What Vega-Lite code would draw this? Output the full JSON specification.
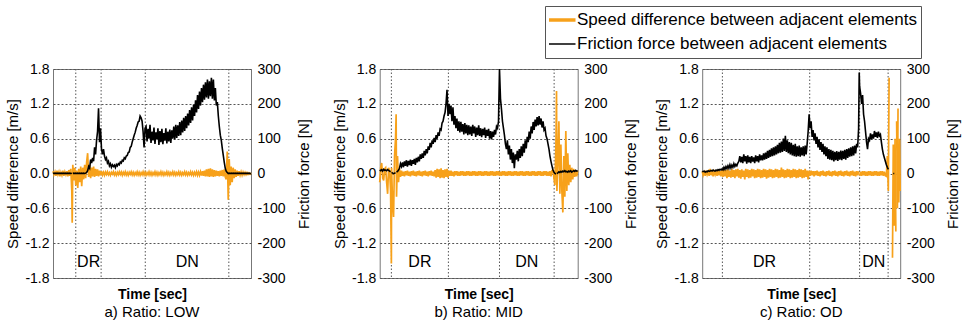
{
"$schema": "https://vega.github.io/schema/vega-lite/v6.json",
"padding": {"left": 5, "top": 5, "right": 0, "bottom": 0},
"datasets": {
"mk": [
{"p":"a","t":11.5},{"p":"a","t":24.3},{"p":"a","t":46.6},{"p":"a","t":88.8},
{"p":"b","t":5.9},{"p":"b","t":34.7},{"p":"b","t":60.5},{"p":"b","t":88.1},
{"p":"c","t":10.2},{"p":"c","t":54.3},{"p":"c","t":79.5},{"p":"c","t":93.9}
],
"lab": [
{"p":"a","t":18,"y":-1.52,"l":"DR"},{"p":"a","t":67.8,"y":-1.52,"l":"DN"},
{"p":"b","t":20.3,"y":-1.52,"l":"DR"},{"p":"b","t":74.3,"y":-1.52,"l":"DN"},
{"p":"c","t":31.5,"y":-1.52,"l":"DR"},{"p":"c","t":86.7,"y":-1.52,"l":"DN"}
],
"a": [
{"t":0,"s":0.04,"f":0},{"t":0.5,"s":-0.02,"f":1},{"t":1,"s":0.03,"f":0},{"t":1.5,"s":-0.04,"f":1},{"t":2,"s":0.05,"f":0},{"t":2.5,"s":-0.02,"f":1},{"t":3,"s":0.03,"f":0},{"t":3.5,"s":-0.05,"f":1},{"t":4,"s":0.02,"f":0},{"t":4.5,"s":-0.03,"f":1},{"t":5,"s":0.05,"f":0},{"t":5.5,"s":-0.04,"f":1},{"t":6,"s":0.03,"f":0},{"t":6.5,"s":-0.02,"f":1},{"t":7,"s":0.04,"f":0},{"t":7.5,"s":-0.05,"f":1},{"t":8,"s":0.06,"f":0},{"t":8.5,"s":-0.04,"f":1},{"t":9,"s":0.08,"f":0},{"t":9.5,"s":-0.3,"f":1},{"t":9.7,"s":-0.85},{"t":10,"s":0.15,"f":0},{"t":10.5,"s":-0.12,"f":1},{"t":11,"s":0.1,"f":0},{"t":11.5,"s":-0.2,"f":1},{"t":12,"s":0.05,"f":0},{"t":12.5,"s":-0.25,"f":1},{"t":13,"s":0.08,"f":0},{"t":13.5,"s":-0.15,"f":1},{"t":14,"s":0.12,"f":0},{"t":14.5,"s":-0.22,"f":1},{"t":15,"s":0.1,"f":0},{"t":15.5,"s":-0.1,"f":1},{"t":16,"s":0.15,"f":0},{"t":16.5,"s":-0.08,"f":1},{"t":17,"s":0.2,"f":3},{"t":17.5,"s":0.35,"f":8},{"t":18,"s":-0.06,"f":20},{"t":18.5,"s":0.15,"f":15},{"t":19,"s":-0.08,"f":40},{"t":19.5,"s":0.1,"f":30},{"t":20,"s":-0.05,"f":45},{"t":20.5,"s":0.12,"f":35},{"t":21,"s":-0.06,"f":75},{"t":21.5,"s":0.08,"f":55},{"t":22,"s":-0.04,"f":95},{"t":22.5,"s":0.07,"f":120},{"t":23,"s":-0.05,"f":187},{"t":23.5,"s":0.05,"f":90},{"t":24,"s":-0.03,"f":130},{"t":24.5,"s":0.04,"f":70},{"t":25,"s":-0.025,"f":55},{"t":25.5,"s":0.02,"f":70},{"t":26,"s":-0.03,"f":50},{"t":26.5,"s":0.025,"f":40},{"t":27,"s":-0.015,"f":45},{"t":27.5,"s":0.03,"f":30},{"t":28,"s":-0.02,"f":35},{"t":28.5,"s":0.015,"f":22},{"t":29,"s":-0.03,"f":28},{"t":29.5,"s":0.02,"f":18},{"t":30,"s":-0.01,"f":25},{"t":30.5,"s":0.03,"f":20},{"t":31,"s":-0.025,"f":24},{"t":31.5,"s":0.015,"f":17},{"t":32,"s":-0.03,"f":26},{"t":32.5,"s":0.02,"f":22},{"t":33,"s":-0.02,"f":28},{"t":33.5,"s":0.03,"f":25},{"t":34,"s":-0.015,"f":33},{"t":34.5,"s":0.025,"f":30},{"t":35,"s":-0.03,"f":38},{"t":35.5,"s":0.02,"f":36},{"t":36,"s":-0.02,"f":45},{"t":36.5,"s":0.03,"f":42},{"t":37,"s":-0.025,"f":50},{"t":37.5,"s":0.015,"f":52},{"t":38,"s":-0.03,"f":60},{"t":38.5,"s":0.02,"f":62},{"t":39,"s":-0.015,"f":75},{"t":39.5,"s":0.03,"f":78},{"t":40,"s":-0.025,"f":90},{"t":40.5,"s":0.02,"f":100},{"t":41,"s":-0.03,"f":110},{"t":41.5,"s":0.015,"f":118},{"t":42,"s":-0.02,"f":130},{"t":42.5,"s":0.03,"f":138},{"t":43,"s":-0.025,"f":148},{"t":43.5,"s":0.02,"f":150},{"t":44,"s":-0.03,"f":165},{"t":44.5,"s":0.015,"f":160},{"t":45,"s":-0.02,"f":150},{"t":45.5,"s":0.03,"f":120},{"t":46,"s":-0.025,"f":75},{"t":46.5,"s":0.02,"f":130},{"t":47,"s":-0.03,"f":135},{"t":47.5,"s":0.015,"f":92},{"t":48,"s":-0.02,"f":128},{"t":48.5,"s":0.03,"f":100},{"t":49,"s":-0.025,"f":140},{"t":49.5,"s":0.02,"f":88},{"t":50,"s":-0.03,"f":120},{"t":50.5,"s":0.015,"f":95},{"t":51,"s":-0.02,"f":132},{"t":51.5,"s":0.03,"f":85},{"t":52,"s":-0.025,"f":118},{"t":52.5,"s":0.02,"f":98},{"t":53,"s":-0.03,"f":130},{"t":53.5,"s":0.015,"f":82},{"t":54,"s":-0.02,"f":122},{"t":54.5,"s":0.03,"f":90},{"t":55,"s":-0.025,"f":128},{"t":55.5,"s":0.02,"f":84},{"t":56,"s":-0.03,"f":116},{"t":56.5,"s":0.015,"f":94},{"t":57,"s":-0.02,"f":130},{"t":57.5,"s":0.03,"f":86},{"t":58,"s":-0.025,"f":120},{"t":58.5,"s":0.02,"f":92},{"t":59,"s":-0.03,"f":126},{"t":59.5,"s":0.015,"f":88},{"t":60,"s":-0.02,"f":124},{"t":60.5,"s":0.03,"f":100},{"t":61,"s":-0.025,"f":135},{"t":61.5,"s":0.02,"f":98},{"t":62,"s":-0.03,"f":140},{"t":62.5,"s":0.015,"f":102},{"t":63,"s":-0.02,"f":138},{"t":63.5,"s":0.03,"f":108},{"t":64,"s":-0.025,"f":148},{"t":64.5,"s":0.02,"f":110},{"t":65,"s":-0.03,"f":152},{"t":65.5,"s":0.015,"f":118},{"t":66,"s":-0.02,"f":160},{"t":66.5,"s":0.03,"f":122},{"t":67,"s":-0.025,"f":165},{"t":67.5,"s":0.02,"f":130},{"t":68,"s":-0.03,"f":172},{"t":68.5,"s":0.015,"f":138},{"t":69,"s":-0.02,"f":182},{"t":69.5,"s":0.03,"f":145},{"t":70,"s":-0.025,"f":190},{"t":70.5,"s":0.02,"f":152},{"t":71,"s":-0.03,"f":198},{"t":71.5,"s":0.02,"f":165},{"t":72,"s":-0.025,"f":210},{"t":72.5,"s":0.03,"f":175},{"t":73,"s":-0.03,"f":225},{"t":73.5,"s":0.025,"f":185},{"t":74,"s":-0.03,"f":235},{"t":74.5,"s":0.03,"f":195},{"t":75,"s":-0.035,"f":245},{"t":75.5,"s":0.04,"f":205},{"t":76,"s":-0.04,"f":255},{"t":76.5,"s":0.05,"f":212},{"t":77,"s":-0.05,"f":262},{"t":77.5,"s":0.07,"f":218},{"t":78,"s":-0.05,"f":270},{"t":78.5,"s":0.08,"f":215},{"t":79,"s":-0.06,"f":265},{"t":79.5,"s":0.09,"f":222},{"t":80,"s":-0.05,"f":275},{"t":80.5,"s":0.07,"f":215},{"t":81,"s":-0.06,"f":270},{"t":81.5,"s":0.06,"f":210},{"t":82,"s":-0.05,"f":245},{"t":82.5,"s":0.05,"f":195},{"t":83,"s":-0.04,"f":205},{"t":83.5,"s":0.04,"f":165},{"t":84,"s":-0.05,"f":135},{"t":84.5,"s":0.05,"f":110},{"t":85,"s":-0.04,"f":95},{"t":85.5,"s":0.06,"f":72},{"t":86,"s":-0.05,"f":52},{"t":86.5,"s":0.07,"f":32},{"t":87,"s":-0.06,"f":15},{"t":87.5,"s":-0.1,"f":6},{"t":88,"s":0.38,"f":3},{"t":88.5,"s":-0.45,"f":0},{"t":89,"s":0.25,"f":1},{"t":89.5,"s":-0.2,"f":0},{"t":90,"s":0.12,"f":1},{"t":90.5,"s":-0.15,"f":0},{"t":91,"s":0.1,"f":1},{"t":91.5,"s":-0.08,"f":0},{"t":92,"s":0.07,"f":1},{"t":92.5,"s":-0.06,"f":0},{"t":93,"s":0.05,"f":1},{"t":93.5,"s":-0.04,"f":0},{"t":94,"s":0.04,"f":1},{"t":94.5,"s":-0.03,"f":0},{"t":95,"s":0.03,"f":1},{"t":95.5,"s":-0.03,"f":0},{"t":96,"s":0.025,"f":1},{"t":96.5,"s":-0.02,"f":0},{"t":97,"s":0.02,"f":1},{"t":97.5,"s":-0.02,"f":0},{"t":98,"s":0.015,"f":1},{"t":98.5,"s":-0.015,"f":0},{"t":99,"s":0.01,"f":1},{"t":99.5,"s":-0.01,"f":0},{"t":100,"s":0.01,"f":0}
],
"b": [
{"t":0,"s":-0.15,"f":10},{"t":0.5,"s":0.1,"f":8},{"t":1,"s":0.18,"f":11},{"t":1.5,"s":-0.08,"f":7},{"t":2,"s":-0.12,"f":12},{"t":2.5,"s":0.08,"f":9},{"t":3,"s":0.1,"f":10},{"t":3.5,"s":-0.15,"f":8},{"t":4,"s":-0.35,"f":11},{"t":4.5,"s":0.1,"f":9},{"t":5,"s":0.05,"f":7},{"t":5.5,"s":-0.3,"f":5},{"t":5.9,"s":-1.55},{"t":6,"s":0.1,"f":3},{"t":6.5,"s":-0.5,"f":1},{"t":7,"s":-0.75,"f":0},{"t":7.5,"s":0.3,"f":1},{"t":8,"s":0.6,"f":2},{"t":8.3,"s":1.02},{"t":8.5,"s":-0.4,"f":4},{"t":9,"s":0.3,"f":6},{"t":9.5,"s":-0.15,"f":10},{"t":10,"s":0.08,"f":15},{"t":10.5,"s":-0.06,"f":28},{"t":11,"s":0.05,"f":20},{"t":11.5,"s":-0.04,"f":32},{"t":12,"s":0.03,"f":18},{"t":12.5,"s":-0.05,"f":35},{"t":13,"s":0.04,"f":22},{"t":13.5,"s":-0.03,"f":38},{"t":14,"s":0.05,"f":20},{"t":14.5,"s":-0.04,"f":36},{"t":15,"s":0.03,"f":24},{"t":15.5,"s":-0.05,"f":40},{"t":16,"s":0.04,"f":22},{"t":16.5,"s":-0.03,"f":38},{"t":17,"s":0.05,"f":28},{"t":17.5,"s":-0.04,"f":42},{"t":18,"s":0.03,"f":25},{"t":18.5,"s":-0.05,"f":45},{"t":19,"s":0.04,"f":32},{"t":19.5,"s":-0.03,"f":48},{"t":20,"s":0.05,"f":35},{"t":20.5,"s":-0.04,"f":55},{"t":21,"s":0.03,"f":42},{"t":21.5,"s":-0.05,"f":58},{"t":22,"s":0.04,"f":45},{"t":22.5,"s":-0.03,"f":65},{"t":23,"s":0.05,"f":52},{"t":23.5,"s":-0.04,"f":70},{"t":24,"s":0.03,"f":58},{"t":24.5,"s":-0.05,"f":78},{"t":25,"s":0.04,"f":68},{"t":25.5,"s":-0.03,"f":88},{"t":26,"s":0.05,"f":75},{"t":26.5,"s":-0.04,"f":95},{"t":27,"s":0.03,"f":85},{"t":27.5,"s":-0.05,"f":102},{"t":28,"s":0.06,"f":90},{"t":28.5,"s":-0.07,"f":110},{"t":29,"s":0.08,"f":100},{"t":29.5,"s":-0.06,"f":118},{"t":30,"s":0.07,"f":108},{"t":30.5,"s":-0.08,"f":128},{"t":31,"s":0.09,"f":125},{"t":31.5,"s":-0.07,"f":145},{"t":32,"s":0.06,"f":150},{"t":32.5,"s":-0.08,"f":165},{"t":33,"s":0.07,"f":175},{"t":33.5,"s":-0.06,"f":200},{"t":34,"s":0.08,"f":240},{"t":34.5,"s":-0.07,"f":165},{"t":35,"s":0.05,"f":200},{"t":35.5,"s":-0.04,"f":170},{"t":36,"s":0.05,"f":195},{"t":36.5,"s":-0.04,"f":150},{"t":37,"s":0.03,"f":190},{"t":37.5,"s":-0.05,"f":140},{"t":38,"s":0.04,"f":165},{"t":38.5,"s":-0.03,"f":130},{"t":39,"s":0.04,"f":158},{"t":39.5,"s":-0.04,"f":122},{"t":40,"s":0.03,"f":150},{"t":40.5,"s":-0.04,"f":118},{"t":41,"s":0.04,"f":148},{"t":41.5,"s":-0.03,"f":120},{"t":42,"s":0.04,"f":142},{"t":42.5,"s":-0.04,"f":112},{"t":43,"s":0.03,"f":145},{"t":43.5,"s":-0.04,"f":115},{"t":44,"s":0.04,"f":140},{"t":44.5,"s":-0.03,"f":110},{"t":45,"s":0.04,"f":138},{"t":45.5,"s":-0.04,"f":112},{"t":46,"s":0.03,"f":135},{"t":46.5,"s":-0.04,"f":108},{"t":47,"s":0.04,"f":140},{"t":47.5,"s":-0.03,"f":115},{"t":48,"s":0.04,"f":135},{"t":48.5,"s":-0.04,"f":105},{"t":49,"s":0.03,"f":132},{"t":49.5,"s":-0.04,"f":110},{"t":50,"s":0.04,"f":138},{"t":50.5,"s":-0.03,"f":108},{"t":51,"s":0.04,"f":130},{"t":51.5,"s":-0.04,"f":104},{"t":52,"s":0.03,"f":128},{"t":52.5,"s":-0.04,"f":110},{"t":53,"s":0.04,"f":132},{"t":53.5,"s":-0.03,"f":102},{"t":54,"s":0.04,"f":125},{"t":54.5,"s":-0.04,"f":108},{"t":55,"s":0.03,"f":128},{"t":55.5,"s":-0.04,"f":100},{"t":56,"s":0.04,"f":122},{"t":56.5,"s":-0.03,"f":98},{"t":57,"s":0.04,"f":120},{"t":57.5,"s":-0.04,"f":105},{"t":58,"s":0.03,"f":125},{"t":58.5,"s":-0.04,"f":112},{"t":59,"s":0.04,"f":135},{"t":59.5,"s":-0.03,"f":130},{"t":60,"s":0.04,"f":150},{"t":60.5,"s":-0.04,"f":300},{"t":61,"s":0.03,"f":215},{"t":61.5,"s":-0.04,"f":185},{"t":62,"s":0.04,"f":150},{"t":62.5,"s":-0.03,"f":130},{"t":63,"s":0.04,"f":110},{"t":63.5,"s":-0.04,"f":85},{"t":64,"s":0.03,"f":70},{"t":64.5,"s":-0.04,"f":95},{"t":65,"s":0.04,"f":55},{"t":65.5,"s":-0.03,"f":80},{"t":66,"s":0.04,"f":40},{"t":66.5,"s":-0.04,"f":70},{"t":67,"s":0.03,"f":30},{"t":67.5,"s":-0.04,"f":60},{"t":68,"s":0.04,"f":15},{"t":68.5,"s":-0.03,"f":55},{"t":69,"s":0.04,"f":40},{"t":69.5,"s":-0.04,"f":65},{"t":70,"s":0.03,"f":35},{"t":70.5,"s":-0.04,"f":70},{"t":71,"s":0.04,"f":45},{"t":71.5,"s":-0.03,"f":78},{"t":72,"s":0.04,"f":50},{"t":72.5,"s":-0.04,"f":85},{"t":73,"s":0.03,"f":60},{"t":73.5,"s":-0.04,"f":95},{"t":74,"s":0.04,"f":72},{"t":74.5,"s":-0.03,"f":105},{"t":75,"s":0.04,"f":90},{"t":75.5,"s":-0.04,"f":120},{"t":76,"s":0.03,"f":100},{"t":76.5,"s":-0.04,"f":135},{"t":77,"s":0.04,"f":115},{"t":77.5,"s":-0.03,"f":148},{"t":78,"s":0.04,"f":125},{"t":78.5,"s":-0.04,"f":155},{"t":79,"s":0.03,"f":135},{"t":79.5,"s":-0.04,"f":162},{"t":80,"s":0.04,"f":138},{"t":80.5,"s":-0.03,"f":165},{"t":81,"s":0.04,"f":140},{"t":81.5,"s":-0.04,"f":158},{"t":82,"s":0.03,"f":132},{"t":82.5,"s":-0.04,"f":150},{"t":83,"s":0.04,"f":125},{"t":83.5,"s":-0.03,"f":130},{"t":84,"s":0.04,"f":108},{"t":84.5,"s":-0.04,"f":100},{"t":85,"s":0.03,"f":85},{"t":85.5,"s":-0.04,"f":70},{"t":86,"s":0.04,"f":50},{"t":86.5,"s":-0.05,"f":35},{"t":87,"s":0.05,"f":22},{"t":87.5,"s":0.06,"f":10},{"t":88,"s":-0.08,"f":4},{"t":88.5,"s":-0.2,"f":0},{"t":89,"s":0.5,"f":-2},{"t":89.3,"s":1.42},{"t":89.5,"s":-0.3,"f":0},{"t":90,"s":0.2,"f":2},{"t":90.5,"s":0.9,"f":5},{"t":91,"s":-0.35,"f":3},{"t":91.5,"s":0.5,"f":6},{"t":92,"s":-0.3,"f":4},{"t":92.5,"s":-0.67,"f":7},{"t":93,"s":0.3,"f":5},{"t":93.5,"s":-0.4,"f":8},{"t":94,"s":0.73,"f":5},{"t":94.5,"s":-0.3,"f":6},{"t":95,"s":0.35,"f":4},{"t":95.5,"s":-0.2,"f":7},{"t":96,"s":0.15,"f":5},{"t":96.5,"s":-0.15,"f":8},{"t":97,"s":0.1,"f":4},{"t":97.5,"s":-0.1,"f":6},{"t":98,"s":0.08,"f":8},{"t":98.5,"s":-0.06,"f":6},{"t":99,"s":0.06,"f":9},{"t":99.5,"s":-0.05,"f":7},{"t":100,"s":0.05,"f":8}
],
"c": [
{"t":0,"s":0.04,"f":5},{"t":0.5,"s":-0.03,"f":6},{"t":1,"s":0.02,"f":7},{"t":1.5,"s":-0.04,"f":4},{"t":2,"s":0.05,"f":6},{"t":2.5,"s":-0.02,"f":5},{"t":3,"s":0.03,"f":8},{"t":3.5,"s":-0.04,"f":6},{"t":4,"s":0.08,"f":7},{"t":4.5,"s":-0.03,"f":9},{"t":5,"s":0.04,"f":7},{"t":5.5,"s":-0.05,"f":10},{"t":6,"s":0.03,"f":8},{"t":6.5,"s":-0.02,"f":7},{"t":7,"s":0.05,"f":10},{"t":7.5,"s":-0.04,"f":8},{"t":8,"s":0.06,"f":11},{"t":8.5,"s":-0.03,"f":9},{"t":9,"s":0.04,"f":12},{"t":9.5,"s":-0.05,"f":10},{"t":10,"s":0.07,"f":13},{"t":10.5,"s":-0.06,"f":10},{"t":11,"s":0.08,"f":18},{"t":11.5,"s":-0.05,"f":12},{"t":12,"s":0.06,"f":20},{"t":12.5,"s":-0.08,"f":14},{"t":13,"s":0.07,"f":22},{"t":13.5,"s":-0.06,"f":15},{"t":14,"s":0.05,"f":25},{"t":14.5,"s":-0.07,"f":16},{"t":15,"s":0.08,"f":24},{"t":15.5,"s":-0.06,"f":18},{"t":16,"s":0.06,"f":28},{"t":16.5,"s":-0.08,"f":20},{"t":17,"s":0.07,"f":26},{"t":17.5,"s":-0.05,"f":22},{"t":18,"s":0.08,"f":30},{"t":18.5,"s":-0.07,"f":35},{"t":19,"s":0.06,"f":50},{"t":19.5,"s":-0.09,"f":32},{"t":20,"s":0.07,"f":48},{"t":20.5,"s":-0.06,"f":30},{"t":21,"s":0.05,"f":55},{"t":21.5,"s":-0.1,"f":35},{"t":22,"s":0.08,"f":50},{"t":22.5,"s":-0.06,"f":28},{"t":23,"s":0.07,"f":52},{"t":23.5,"s":-0.08,"f":32},{"t":24,"s":0.06,"f":48},{"t":24.5,"s":-0.07,"f":30},{"t":25,"s":0.08,"f":50},{"t":25.5,"s":-0.05,"f":34},{"t":26,"s":0.07,"f":46},{"t":26.5,"s":-0.08,"f":30},{"t":27,"s":0.06,"f":52},{"t":27.5,"s":-0.07,"f":35},{"t":28,"s":0.08,"f":50},{"t":28.5,"s":-0.06,"f":32},{"t":29,"s":0.07,"f":55},{"t":29.5,"s":-0.08,"f":38},{"t":30,"s":0.06,"f":52},{"t":30.5,"s":-0.07,"f":38},{"t":31,"s":0.08,"f":58},{"t":31.5,"s":-0.06,"f":40},{"t":32,"s":0.07,"f":60},{"t":32.5,"s":-0.09,"f":42},{"t":33,"s":0.06,"f":65},{"t":33.5,"s":-0.07,"f":45},{"t":34,"s":0.08,"f":68},{"t":34.5,"s":-0.06,"f":48},{"t":35,"s":0.07,"f":72},{"t":35.5,"s":-0.08,"f":50},{"t":36,"s":0.06,"f":75},{"t":36.5,"s":-0.07,"f":52},{"t":37,"s":0.08,"f":78},{"t":37.5,"s":-0.06,"f":55},{"t":38,"s":0.07,"f":82},{"t":38.5,"s":-0.08,"f":58},{"t":39,"s":0.06,"f":88},{"t":39.5,"s":-0.07,"f":60},{"t":40,"s":0.1,"f":92},{"t":40.5,"s":-0.06,"f":62},{"t":41,"s":0.07,"f":100},{"t":41.5,"s":-0.08,"f":65},{"t":42,"s":0.06,"f":108},{"t":42.5,"s":-0.07,"f":62},{"t":43,"s":0.08,"f":95},{"t":43.5,"s":-0.06,"f":58},{"t":44,"s":0.07,"f":90},{"t":44.5,"s":-0.08,"f":55},{"t":45,"s":0.06,"f":88},{"t":45.5,"s":-0.07,"f":52},{"t":46,"s":0.08,"f":82},{"t":46.5,"s":-0.06,"f":50},{"t":47,"s":0.07,"f":85},{"t":47.5,"s":-0.08,"f":48},{"t":48,"s":0.06,"f":78},{"t":48.5,"s":-0.07,"f":50},{"t":49,"s":0.08,"f":80},{"t":49.5,"s":-0.06,"f":48},{"t":50,"s":0.07,"f":75},{"t":50.5,"s":-0.08,"f":52},{"t":51,"s":0.06,"f":78},{"t":51.5,"s":-0.07,"f":50},{"t":52,"s":0.08,"f":80},{"t":52.5,"s":-0.06,"f":55},{"t":53,"s":0.05,"f":85},{"t":53.5,"s":-0.1,"f":120},{"t":54,"s":0.05,"f":170},{"t":54.5,"s":-0.04,"f":130},{"t":55,"s":0.05,"f":150},{"t":55.5,"s":-0.03,"f":105},{"t":56,"s":0.04,"f":125},{"t":56.5,"s":-0.05,"f":95},{"t":57,"s":0.04,"f":115},{"t":57.5,"s":-0.03,"f":85},{"t":58,"s":0.05,"f":105},{"t":58.5,"s":-0.04,"f":75},{"t":59,"s":0.03,"f":98},{"t":59.5,"s":-0.05,"f":68},{"t":60,"s":0.04,"f":90},{"t":60.5,"s":-0.03,"f":62},{"t":61,"s":0.05,"f":85},{"t":61.5,"s":-0.04,"f":55},{"t":62,"s":0.03,"f":78},{"t":62.5,"s":-0.05,"f":50},{"t":63,"s":0.04,"f":75},{"t":63.5,"s":-0.03,"f":42},{"t":64,"s":0.05,"f":70},{"t":64.5,"s":-0.04,"f":40},{"t":65,"s":0.03,"f":68},{"t":65.5,"s":-0.05,"f":38},{"t":66,"s":0.04,"f":65},{"t":66.5,"s":-0.03,"f":35},{"t":67,"s":0.05,"f":62},{"t":67.5,"s":-0.04,"f":38},{"t":68,"s":0.03,"f":64},{"t":68.5,"s":-0.05,"f":36},{"t":69,"s":0.04,"f":62},{"t":69.5,"s":-0.03,"f":40},{"t":70,"s":0.05,"f":66},{"t":70.5,"s":-0.04,"f":38},{"t":71,"s":0.03,"f":65},{"t":71.5,"s":-0.05,"f":42},{"t":72,"s":0.04,"f":68},{"t":72.5,"s":-0.03,"f":40},{"t":73,"s":0.05,"f":70},{"t":73.5,"s":-0.04,"f":45},{"t":74,"s":0.03,"f":72},{"t":74.5,"s":-0.05,"f":48},{"t":75,"s":0.04,"f":75},{"t":75.5,"s":-0.03,"f":50},{"t":76,"s":0.05,"f":78},{"t":76.5,"s":-0.04,"f":52},{"t":77,"s":0.03,"f":80},{"t":77.5,"s":-0.05,"f":58},{"t":78,"s":0.04,"f":85},{"t":78.5,"s":-0.03,"f":75},{"t":79,"s":0.04,"f":130},{"t":79.3,"f":290},{"t":79.5,"s":-0.04,"f":250},{"t":80,"s":0.03,"f":230},{"t":80.5,"s":-0.04,"f":200},{"t":81,"s":0.04,"f":225},{"t":81.5,"s":-0.03,"f":170},{"t":82,"s":0.04,"f":150},{"t":82.5,"s":-0.04,"f":120},{"t":83,"s":0.03,"f":90},{"t":83.5,"s":-0.04,"f":70},{"t":84,"s":0.04,"f":100},{"t":84.5,"s":-0.03,"f":95},{"t":85,"s":0.04,"f":115},{"t":85.5,"s":-0.04,"f":98},{"t":86,"s":0.03,"f":112},{"t":86.5,"s":-0.04,"f":100},{"t":87,"s":0.04,"f":122},{"t":87.5,"s":-0.03,"f":105},{"t":88,"s":0.04,"f":118},{"t":88.5,"s":-0.04,"f":102},{"t":89,"s":0.03,"f":120},{"t":89.5,"s":-0.04,"f":108},{"t":90,"s":0.04,"f":112},{"t":90.5,"s":-0.03,"f":90},{"t":91,"s":0.04,"f":70},{"t":91.5,"s":-0.04,"f":55},{"t":92,"s":0.03,"f":45},{"t":92.5,"s":-0.04,"f":35},{"t":93,"s":-0.05,"f":25},{"t":93.5,"s":0.3,"f":18},{"t":94,"s":-0.3,"f":12},{"t":94.4,"s":1.65},{"t":94.5,"f":8},{"t":94.8,"s":-0.5},{"t":95,"f":5},{"t":95.2,"s":0.6},{"t":95.5,"f":3},{"t":95.6,"s":-0.8},{"t":96,"f":1},{"t":96.1,"s":-1.45},{"t":96.5,"s":0.5,"f":0},{"t":97,"s":-0.9,"f":0},{"t":97.4,"s":0.6},{"t":97.8,"s":-1.0},{"t":98,"f":0},{"t":98.2,"s":0.9},{"t":98.6,"s":-0.6},{"t":98.9,"s":1.12},{"t":99,"f":0},{"t":99.3,"s":-0.5},{"t":99.7,"s":0.6},{"t":100,"s":-0.3,"f":0}
]
},
"spacing": 15.2,
"hconcat": [
{"hconcat": [
{"width": 198, "height": 209, "title": "a) Ratio: LOW",
"layer": [
{"data": {"name": "mk"}, "transform": [{"filter": "datum.p == 'a'"}], "mark": {"type": "rule", "strokeDash": [1.5, 2], "color": "#555", "strokeWidth": 1}, "encoding": {"x": {"field": "t", "type": "quantitative", "title": "Time [sec]", "scale": {"domain": [0, 100], "nice": false, "zero": false}}}},
{"data": {"name": "a"}, "mark": {"type": "line", "strokeWidth": 1.7}, "encoding": {"x": {"field": "t", "type": "quantitative", "title": "Time [sec]", "scale": {"domain": [0, 100], "nice": false, "zero": false}}, "y": {"field": "s", "type": "quantitative", "scale": {"domain": [-1.8, 1.8], "nice": false, "zero": false}, "axis": {"orient": "left", "title": "Speed difference [m/s]", "values": [-1.8, -1.2, -0.6, 0, 0.6, 1.2, 1.8], "labelExpr": "datum.value < 0 ? '-' + format(-datum.value, '.1f') : format(datum.value, '.1f')"}}, "color": {"datum": "Speed difference between adjacent elements", "scale": {"domain": ["Speed difference between adjacent elements", "Friction force between adjacent elements"], "range": ["#F7A11A", "#000000"]}, "legend": {"encode": {"symbols": {"update": {"strokeWidth": {"signal": "datum.value == 'Speed difference between adjacent elements' ? 3.5 : 1.5"}}}}}}}},
{"data": {"name": "a"}, "mark": {"type": "line", "strokeWidth": 1.6}, "encoding": {"x": {"field": "t", "type": "quantitative", "title": "Time [sec]", "scale": {"domain": [0, 100], "nice": false, "zero": false}}, "y": {"field": "f", "type": "quantitative", "scale": {"domain": [-300, 300], "nice": false, "zero": false}, "axis": {"orient": "right", "title": "Friction force [N]", "values": [-300, -200, -100, 0, 100, 200, 300], "labelExpr": "datum.value < 0 ? '-' + format(-datum.value, 'd') : format(datum.value, 'd')"}}, "color": {"datum": "Friction force between adjacent elements", "scale": {"domain": ["Speed difference between adjacent elements", "Friction force between adjacent elements"], "range": ["#F7A11A", "#000000"]}, "legend": {"encode": {"symbols": {"update": {"strokeWidth": {"signal": "datum.value == 'Speed difference between adjacent elements' ? 3.5 : 1.5"}}}}}}}},
{"data": {"name": "lab"}, "transform": [{"filter": "datum.p == 'a'"}], "mark": {"type": "text", "fontSize": 16, "color": "#000"}, "encoding": {"x": {"field": "t", "type": "quantitative", "title": "Time [sec]", "scale": {"domain": [0, 100], "nice": false, "zero": false}}, "y": {"field": "y", "type": "quantitative", "scale": {"domain": [-1.8, 1.8], "nice": false, "zero": false}, "axis": null}, "text": {"field": "l"}}}
],
"resolve": {"scale": {"y": "independent"}}
},
{"width": 198, "height": 209, "title": "b) Ratio: MID",
"layer": [
{"data": {"name": "mk"}, "transform": [{"filter": "datum.p == 'b'"}], "mark": {"type": "rule", "strokeDash": [1.5, 2], "color": "#555", "strokeWidth": 1}, "encoding": {"x": {"field": "t", "type": "quantitative", "title": "Time [sec]", "scale": {"domain": [0, 100], "nice": false, "zero": false}}}},
{"data": {"name": "b"}, "mark": {"type": "line", "strokeWidth": 1.7}, "encoding": {"x": {"field": "t", "type": "quantitative", "title": "Time [sec]", "scale": {"domain": [0, 100], "nice": false, "zero": false}}, "y": {"field": "s", "type": "quantitative", "scale": {"domain": [-1.8, 1.8], "nice": false, "zero": false}, "axis": {"orient": "left", "title": "Speed difference [m/s]", "values": [-1.8, -1.2, -0.6, 0, 0.6, 1.2, 1.8], "labelExpr": "datum.value < 0 ? '-' + format(-datum.value, '.1f') : format(datum.value, '.1f')"}}, "color": {"datum": "Speed difference between adjacent elements", "scale": {"domain": ["Speed difference between adjacent elements", "Friction force between adjacent elements"], "range": ["#F7A11A", "#000000"]}, "legend": {"encode": {"symbols": {"update": {"strokeWidth": {"signal": "datum.value == 'Speed difference between adjacent elements' ? 3.5 : 1.5"}}}}}}}},
{"data": {"name": "b"}, "mark": {"type": "line", "strokeWidth": 1.6}, "encoding": {"x": {"field": "t", "type": "quantitative", "title": "Time [sec]", "scale": {"domain": [0, 100], "nice": false, "zero": false}}, "y": {"field": "f", "type": "quantitative", "scale": {"domain": [-300, 300], "nice": false, "zero": false}, "axis": {"orient": "right", "title": "Friction force [N]", "values": [-300, -200, -100, 0, 100, 200, 300], "labelExpr": "datum.value < 0 ? '-' + format(-datum.value, 'd') : format(datum.value, 'd')"}}, "color": {"datum": "Friction force between adjacent elements", "scale": {"domain": ["Speed difference between adjacent elements", "Friction force between adjacent elements"], "range": ["#F7A11A", "#000000"]}, "legend": {"encode": {"symbols": {"update": {"strokeWidth": {"signal": "datum.value == 'Speed difference between adjacent elements' ? 3.5 : 1.5"}}}}}}}},
{"data": {"name": "lab"}, "transform": [{"filter": "datum.p == 'b'"}], "mark": {"type": "text", "fontSize": 16, "color": "#000"}, "encoding": {"x": {"field": "t", "type": "quantitative", "title": "Time [sec]", "scale": {"domain": [0, 100], "nice": false, "zero": false}}, "y": {"field": "y", "type": "quantitative", "scale": {"domain": [-1.8, 1.8], "nice": false, "zero": false}, "axis": null}, "text": {"field": "l"}}}
],
"resolve": {"scale": {"y": "independent"}}
}
], "spacing": 19.7},
{"width": 198, "height": 209, "title": "c) Ratio: OD",
"layer": [
{"data": {"name": "mk"}, "transform": [{"filter": "datum.p == 'c'"}], "mark": {"type": "rule", "strokeDash": [1.5, 2], "color": "#555", "strokeWidth": 1}, "encoding": {"x": {"field": "t", "type": "quantitative", "title": "Time [sec]", "scale": {"domain": [0, 100], "nice": false, "zero": false}}}},
{"data": {"name": "c"}, "mark": {"type": "line", "strokeWidth": 1.7}, "encoding": {"x": {"field": "t", "type": "quantitative", "title": "Time [sec]", "scale": {"domain": [0, 100], "nice": false, "zero": false}}, "y": {"field": "s", "type": "quantitative", "scale": {"domain": [-1.8, 1.8], "nice": false, "zero": false}, "axis": {"orient": "left", "title": "Speed difference [m/s]", "values": [-1.8, -1.2, -0.6, 0, 0.6, 1.2, 1.8], "labelExpr": "datum.value < 0 ? '-' + format(-datum.value, '.1f') : format(datum.value, '.1f')"}}, "color": {"datum": "Speed difference between adjacent elements", "scale": {"domain": ["Speed difference between adjacent elements", "Friction force between adjacent elements"], "range": ["#F7A11A", "#000000"]}, "legend": {"encode": {"symbols": {"update": {"strokeWidth": {"signal": "datum.value == 'Speed difference between adjacent elements' ? 3.5 : 1.5"}}}}}}}},
{"data": {"name": "c"}, "mark": {"type": "line", "strokeWidth": 1.6}, "encoding": {"x": {"field": "t", "type": "quantitative", "title": "Time [sec]", "scale": {"domain": [0, 100], "nice": false, "zero": false}}, "y": {"field": "f", "type": "quantitative", "scale": {"domain": [-300, 300], "nice": false, "zero": false}, "axis": {"orient": "right", "title": "Friction force [N]", "values": [-300, -200, -100, 0, 100, 200, 300], "labelExpr": "datum.value < 0 ? '-' + format(-datum.value, 'd') : format(datum.value, 'd')"}}, "color": {"datum": "Friction force between adjacent elements", "scale": {"domain": ["Speed difference between adjacent elements", "Friction force between adjacent elements"], "range": ["#F7A11A", "#000000"]}, "legend": {"encode": {"symbols": {"update": {"strokeWidth": {"signal": "datum.value == 'Speed difference between adjacent elements' ? 3.5 : 1.5"}}}}}}}},
{"data": {"name": "lab"}, "transform": [{"filter": "datum.p == 'c'"}], "mark": {"type": "text", "fontSize": 16, "color": "#000"}, "encoding": {"x": {"field": "t", "type": "quantitative", "title": "Time [sec]", "scale": {"domain": [0, 100], "nice": false, "zero": false}}, "y": {"field": "y", "type": "quantitative", "scale": {"domain": [-1.8, 1.8], "nice": false, "zero": false}, "axis": null}, "text": {"field": "l"}}}
],
"resolve": {"scale": {"y": "independent"}}
}
],
"config": {
"font": "Liberation Sans",
"background": "#ffffff",
"view": {"stroke": "#777777", "strokeWidth": 1},
"title": {"orient": "bottom", "fontSize": 15, "fontWeight": "normal", "offset": 0, "anchor": "middle", "color": "#000000"},
"axis": {"labelFontSize": 14, "labelColor": "#000000", "titleFontSize": 15, "titleFontWeight": "normal", "titleColor": "#000000", "ticks": false, "tickSize": 0, "domain": false},
"axisLeft": {"labelPadding": 4, "grid": true, "gridDash": [2, 2], "gridColor": "#555555", "gridWidth": 1, "titleX": -40.5, "titleY": 104.5, "titleBaseline": "middle", "titleAlign": "center", "titleAngle": -90},
"axisRight": {"labelPadding": 6, "grid": false, "titleX": 52.5, "titleY": 104.5, "titleBaseline": "middle", "titleAlign": "center", "titleAngle": -90},
"axisBottom": {"labels": false, "grid": false, "titleFontWeight": "bold", "titleFontSize": 14, "titleY": 16, "titleBaseline": "middle"},
"legend": {"orient": "none", "legendX": 492, "legendY": -63, "title": null, "direction": "vertical", "symbolType": "stroke", "symbolSize": 784, "symbolStrokeWidth": 1.5, "labelFontSize": 17, "labelColor": "#000000", "strokeColor": "#555555", "fillColor": "#ffffff", "padding": 4, "rowPadding": 4, "clipHeight": 20, "labelOffset": 7, "symbolOffset": 4, "labelLimit": 500}
}
}
